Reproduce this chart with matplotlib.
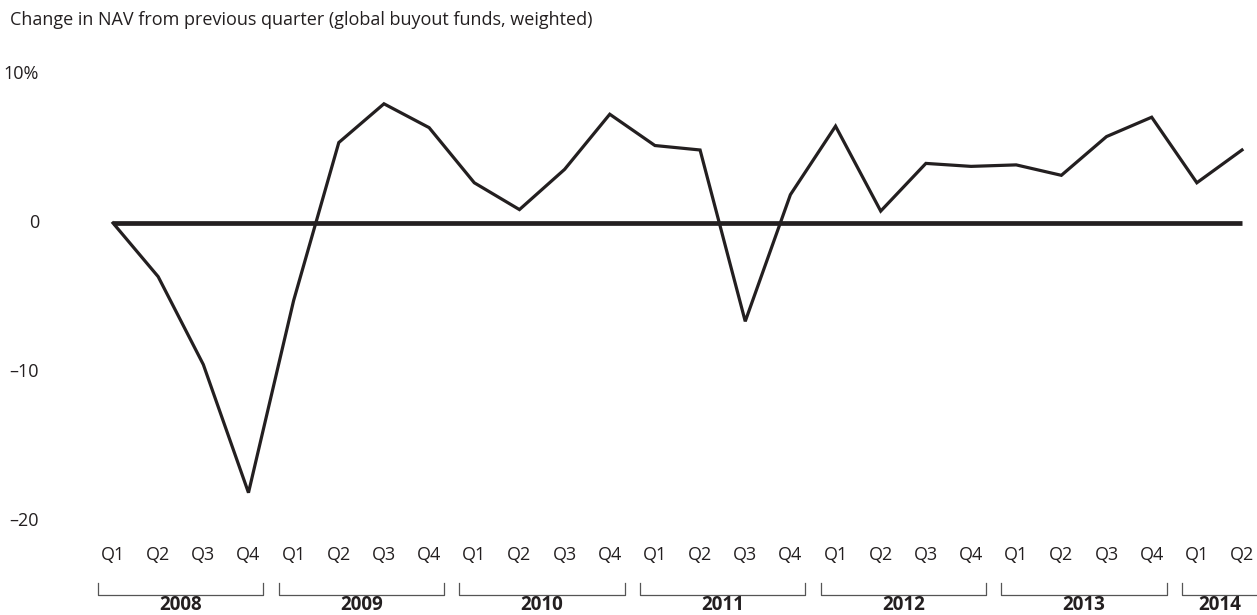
import matplotlib
matplotlib.use("Agg")
import matplotlib.pyplot as plt
from matplotlib.transforms import blended_transform_factory

title = "Change in NAV from previous quarter (global buyout funds, weighted)"
years = ["2008", "2009", "2010", "2011", "2012", "2013", "2014"]
quarters = ["Q1", "Q2", "Q3", "Q4"]
nav_change = [0.0, -3.6, -9.5, -18.1, -5.2, 5.4, 8.0, 6.4,
              2.7, 0.9, 3.6, 7.3, 5.2, 4.9, -6.6, 1.9,
              6.5, 0.8, 4.0, 3.8, 3.9, 3.2, 5.8, 7.1,
              2.7, 4.9]
y_ticks = [10, 0, -10, -20]
y_tick_labels = ["10%", "0", "\u201310", "\u201320"]

plt.rcParams['font.family'] = ['Open Sans', 'DejaVu Sans']
ink = "#231f20"
fs = 13

fig = plt.figure(figsize=(12.57, 6.15), dpi=100)
W, H = 1257, 615
ax = fig.add_axes([113 / W, 1 - 521 / H, (1242 - 113) / W, (521 - 74) / H])
n = len(nav_change)
xs = list(range(n))
ax.set_xlim(0, n - 1)
ax.set_ylim(-20, 10)
ax.plot([0, n - 1], [0, 0], color=ink, lw=3.4, solid_capstyle='butt', clip_on=False, zorder=2)
ax.plot(xs, nav_change, color=ink, lw=2.3, solid_joinstyle='miter', clip_on=False, zorder=3)

for s in ax.spines.values():
    s.set_visible(False)
ax.set_xticks([])
ax.set_yticks([])

ytrans = blended_transform_factory(fig.transFigure, ax.transData)
for v, lab in zip(y_ticks, y_tick_labels):
    fig.text(39 / W, v, lab, transform=ytrans, ha='right', va='center', fontsize=fs, color=ink)

fig.text(10 / W, 1 - 20 / H, title, fontsize=fs, color=ink, ha='left', va='center')

trans = blended_transform_factory(ax.transData, fig.transFigure)
for i in range(n):
    ax.text(i, 1 - 555 / H, quarters[i % 4], transform=trans, ha='center', va='center',
            fontsize=fs, color=ink)

y_top = 1 - 583 / H
y_bot = 1 - 595 / H
for k, yr in enumerate(years):
    i0 = 4 * k
    i1 = min(4 * k + 3, n - 1)
    left = i0 - 0.33
    if 4 * k + 3 <= n - 1:
        right = i1 + 0.33
        ax.plot([left, left, right, right], [y_top, y_bot, y_bot, y_top], transform=trans,
                color='#555555', lw=0.9, clip_on=False)
    else:
        right = n - 1 + 0.35
        ax.plot([left, left, right], [y_top, y_bot, y_bot], transform=trans,
                color='#555555', lw=0.9, clip_on=False)
    cx = (i0 + i1) / 2
    ax.text(cx, 1 - 605 / H, yr, transform=trans, ha='center', va='center',
            fontsize=13.5, fontweight='bold', color=ink)

fig.savefig("out.png", dpi=100)
